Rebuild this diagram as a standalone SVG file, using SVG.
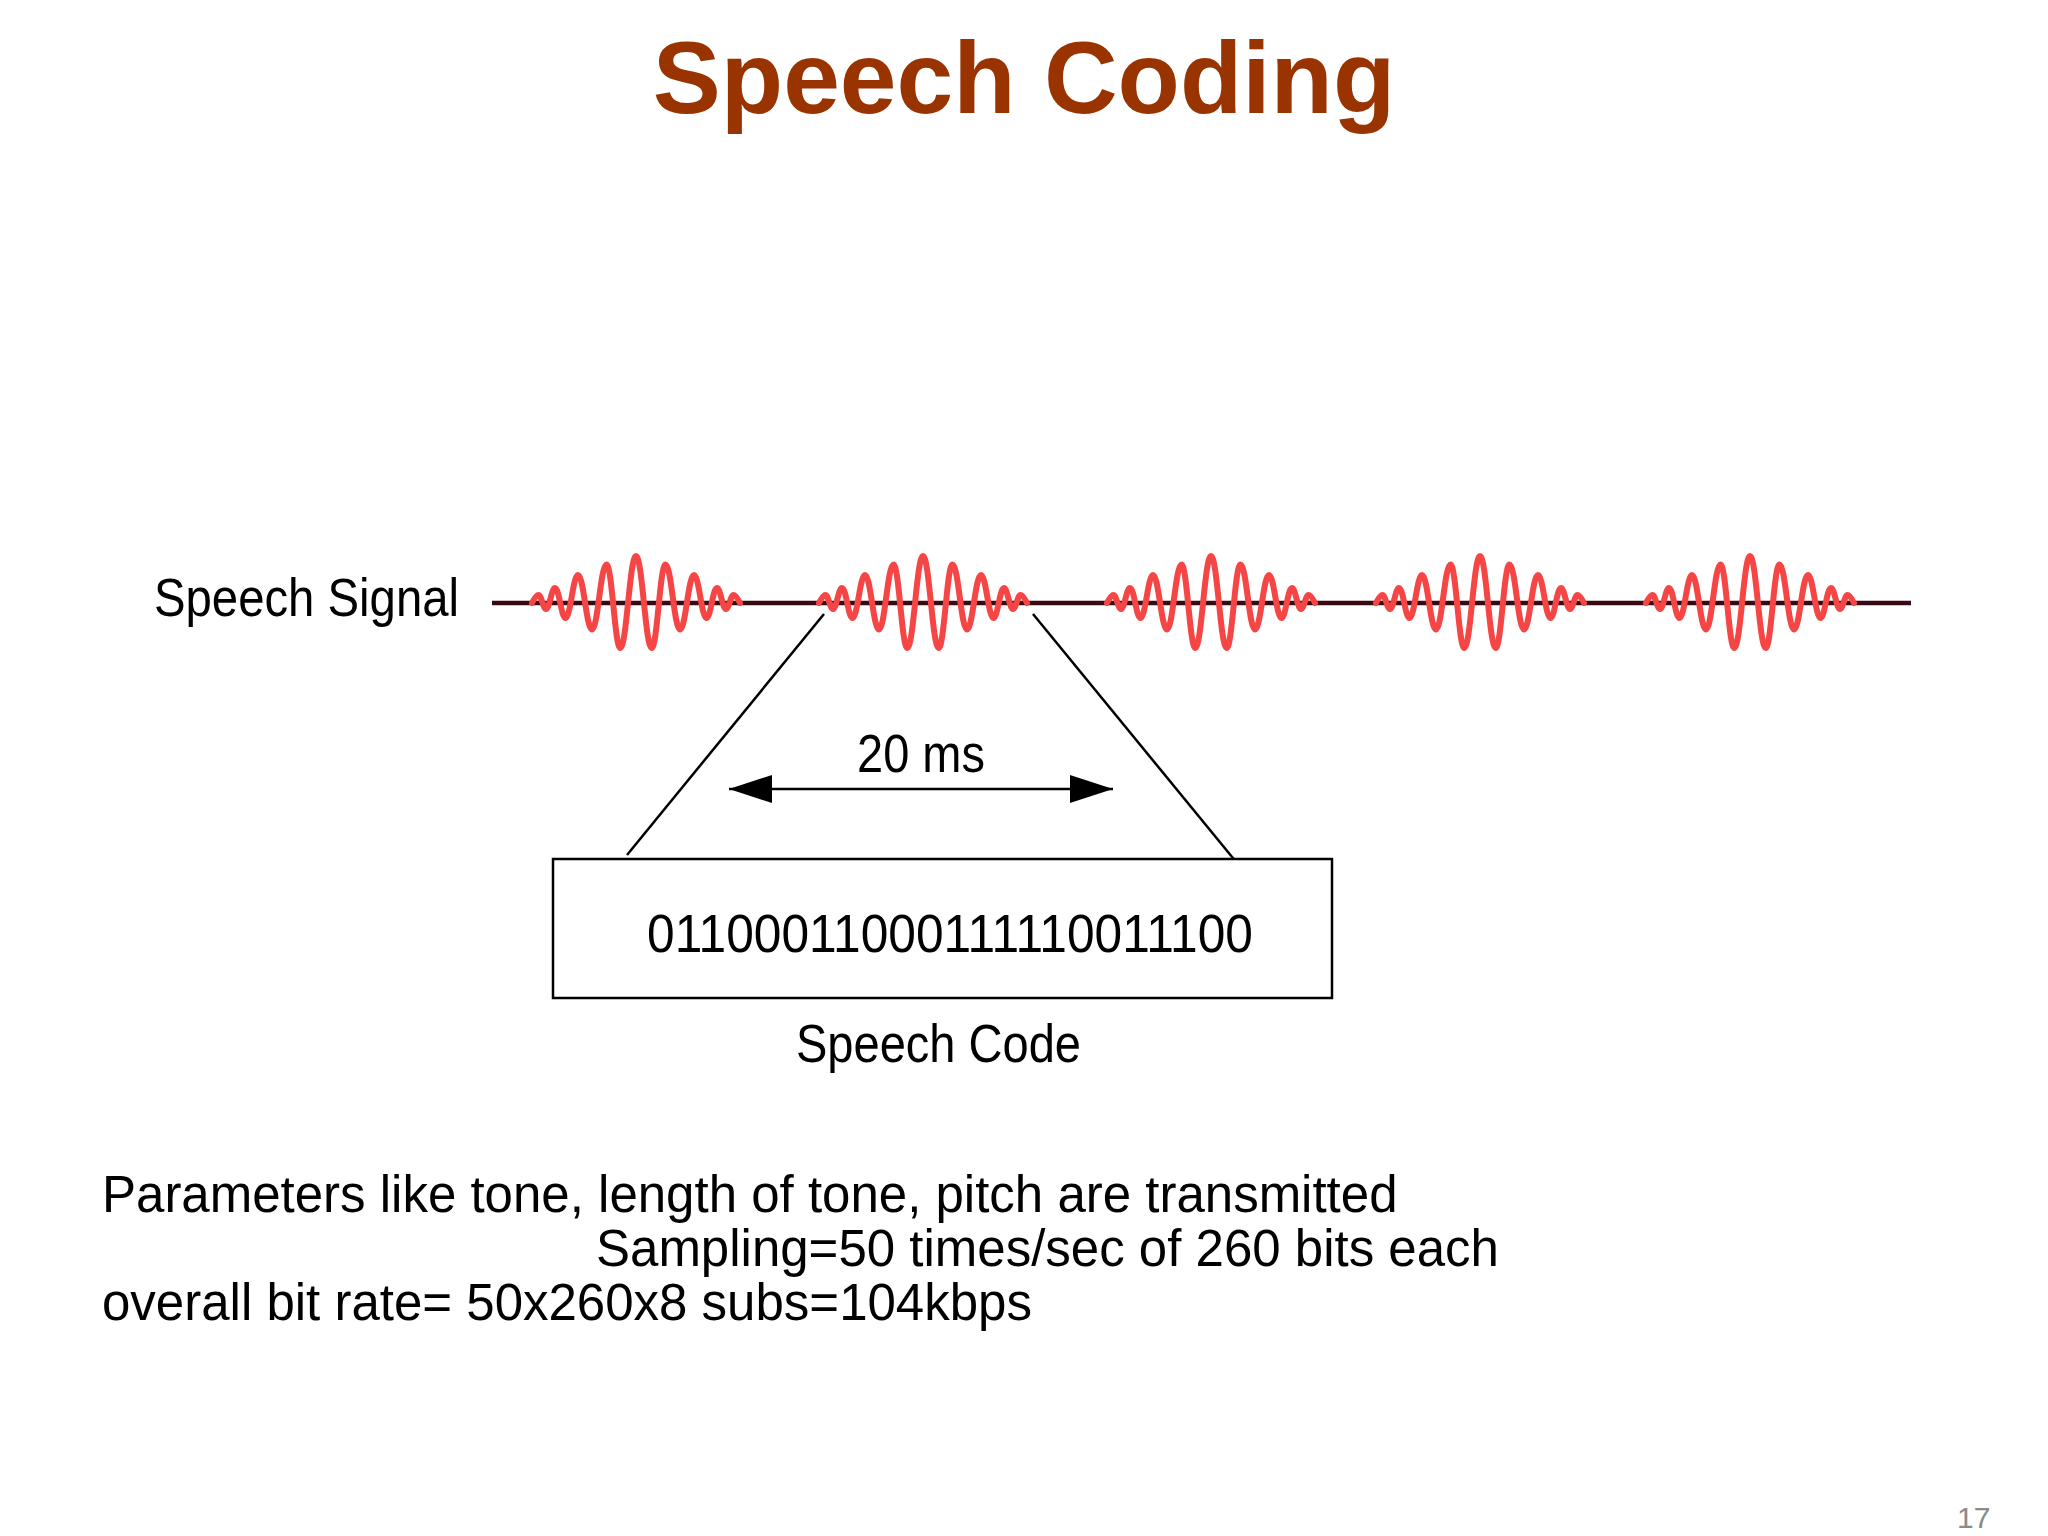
<svg xmlns="http://www.w3.org/2000/svg" width="2048" height="1536" viewBox="0 0 2048 1536">
<style>
.narrow{font-family:"Liberation Sans",Arial,sans-serif;font-size:54px;fill:#000}
.body{font-family:"Liberation Sans",Arial,sans-serif;font-size:51px;fill:#000}
.title{font-family:"Liberation Sans",Arial,sans-serif;font-size:102px;font-weight:bold;fill:#993300}
.wave{fill:none;stroke:#f64545;stroke-width:6;stroke-linecap:round;stroke-linejoin:round}
.conn{fill:none;stroke:#000;stroke-width:2.5}
</style>
<defs>
<marker id="ah" markerUnits="userSpaceOnUse" markerWidth="43" markerHeight="28" refX="43" refY="14" orient="auto-start-reverse">
<path d="M0,0 L43,14 L0,28 z" fill="#000"/>
</marker>
<path id="packet" class="wave" d="M-104,0 C-102,-4 -99.5,-8 -97.5,-8 C-94.5,-8 -93,6 -90,6 C-86.4,6 -84.6,-15 -81,-15 C-76.8,-15 -74.7,15 -70.5,15 C-65.5,15 -63,-28 -58,-28 C-52.4,-28 -49.6,26.5 -44,26.5 C-38.2,26.5 -35.3,-38.5 -29.5,-38.5 C-24,-38.5 -21.2,45 -15.7,45 C-9.4,45 -6.3,-47 0,-47 C6.3,-47 9.4,45 15.7,45 C21.2,45 24,-38.5 29.5,-38.5 C35.3,-38.5 38.2,26.5 44,26.5 C49.6,26.5 52.4,-28 58,-28 C63,-28 65.5,15 70.5,15 C74.7,15 76.8,-15 81,-15 C84.6,-15 86.4,6 90,6 C93,6 94.5,-8 97.5,-8 C99.5,-8 102,-4 104,0"/>
</defs>
<rect width="2048" height="1536" fill="#fff"/>
<g id="title"><text class="title" x="1024" y="113" text-anchor="middle">Speech Coding</text></g>
<g id="speech-signal">
<text class="narrow" x="154" y="616" textLength="305" lengthAdjust="spacingAndGlyphs">Speech Signal</text>
<line x1="492" y1="603" x2="1911" y2="603" stroke="#3a0a14" stroke-width="4.5"/>
<use href="#packet" x="636" y="603"/>
<use href="#packet" x="923" y="603"/>
<use href="#packet" x="1211" y="603"/>
<use href="#packet" x="1480" y="603"/>
<use href="#packet" x="1750" y="603"/>
</g>
<g id="connectors">
<line class="conn" x1="824" y1="614" x2="627" y2="855"/>
<line class="conn" x1="1033" y1="614" x2="1237" y2="863"/>
<line class="conn" x1="729" y1="789" x2="1113" y2="789" marker-start="url(#ah)" marker-end="url(#ah)"/>
</g>
<g id="duration"><text class="narrow" x="857" y="772" textLength="128" lengthAdjust="spacingAndGlyphs">20 ms</text></g>
<g id="speech-code">
<rect x="553" y="859" width="779" height="139" fill="#fff" stroke="#000" stroke-width="2.5"/>
<text class="narrow" x="647" y="952" textLength="606" lengthAdjust="spacingAndGlyphs">01100011000111110011100</text>
<text class="narrow" x="796" y="1062" textLength="285" lengthAdjust="spacingAndGlyphs">Speech Code</text>
</g>
<g id="notes">
<text class="body" x="102" y="1212">Parameters like tone, length of tone, pitch are transmitted</text>
<text class="body" x="596" y="1266">Sampling=50 times/sec of 260 bits each</text>
<text class="body" x="102" y="1320">overall bit rate= 50x260x8 subs=104kbps</text>
</g>
<g id="page-number"><text x="1957" y="1528" font-family="Liberation Sans, Arial, sans-serif" font-size="30" fill="#8a8a8a">17</text></g>
</svg>
